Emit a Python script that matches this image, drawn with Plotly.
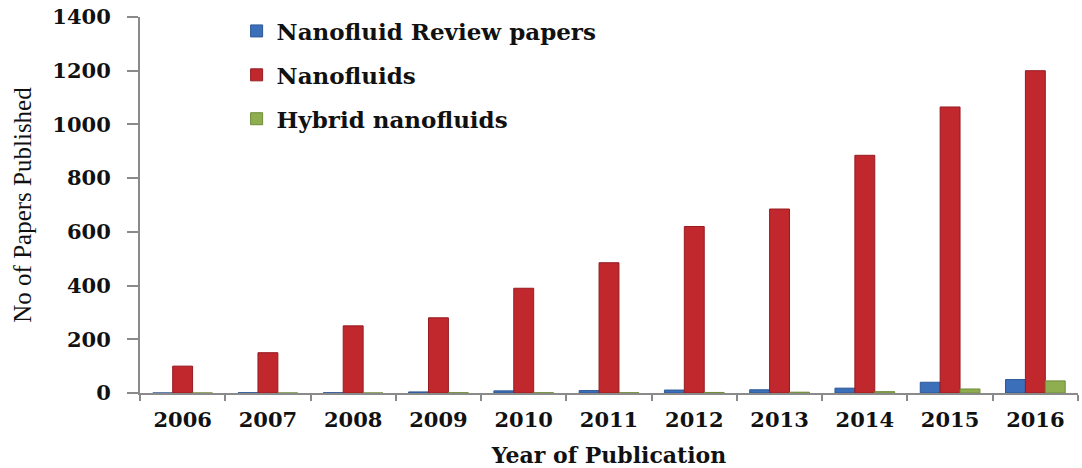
import plotly.graph_objects as go

years = ["2006", "2007", "2008", "2009", "2010", "2011",
         "2012", "2013", "2014", "2015", "2016"]
review_papers = [0, 1, 1, 4, 8, 9, 11, 12, 18, 40, 50]
nanofluids = [100, 150, 250, 280, 390, 485, 620, 685, 885, 1065, 1200]
hybrid_nanofluids = [0, 0, 0, 1, 1, 1, 2, 3, 5, 15, 45]

y_ticks = [0, 200, 400, 600, 800, 1000, 1200, 1400]

bold_font = dict(family="DejaVu Serif", size=21, color="#111111")

fig = go.Figure()
series = [
    ("Nanofluid Review papers", review_papers, "#3c6fba", "#2d5796"),
    ("Nanofluids", nanofluids, "#c0282d", "#951b21"),
    ("Hybrid nanofluids", hybrid_nanofluids, "#8fae4f", "#6f8c38"),
]
for i, (name, vals, fill, edge) in enumerate(series):
    fig.add_trace(go.Bar(
        x=years, y=vals, name=name, legendgroup=f"g{i}",
        marker=dict(color=fill, line=dict(color=edge, width=1)),
    ))

fig.update_layout(
    width=1082, height=468,
    margin=dict(l=140, r=4, t=15, b=74),
    paper_bgcolor="white", plot_bgcolor="white",
    barmode="group", bargap=0.3, bargroupgap=0,
    showlegend=True,
    legend=dict(
        x=0.103, y=1.02, xanchor="left", yanchor="top",
        font=dict(family="DejaVu Serif", size=23, color="#111111", weight="bold"),
        traceorder="grouped", tracegroupgap=11,
        bgcolor="rgba(0,0,0,0)",
    ),
)

fig.update_xaxes(
    showline=True, linecolor="#8a8a8a", linewidth=2,
    ticks="outside", tickson="boundaries", ticklen=6, tickcolor="#8a8a8a",
    tickwidth=1.5,
    tickfont=dict(**bold_font, weight="bold"),
    ticklabelstandoff=7,
    title=dict(text="Year of Publication",
               font=dict(family="DejaVu Serif", size=22, color="#111111", weight="bold"),
               standoff=16),
    showgrid=False,
)
fig.update_yaxes(
    range=[0, 1400], tickvals=y_ticks,
    showline=True, linecolor="#8a8a8a", linewidth=2,
    ticks="outside", ticklen=11, tickcolor="#8a8a8a", tickwidth=1.5,
    tickfont=dict(**bold_font, weight="bold"),
    ticklabelstandoff=12,
    title=dict(text="No of Papers Published",
               font=dict(family="Liberation Serif", size=25, color="#111111"),
               standoff=14),
    showgrid=False, zeroline=False,
)

fig.write_html("out.html")
